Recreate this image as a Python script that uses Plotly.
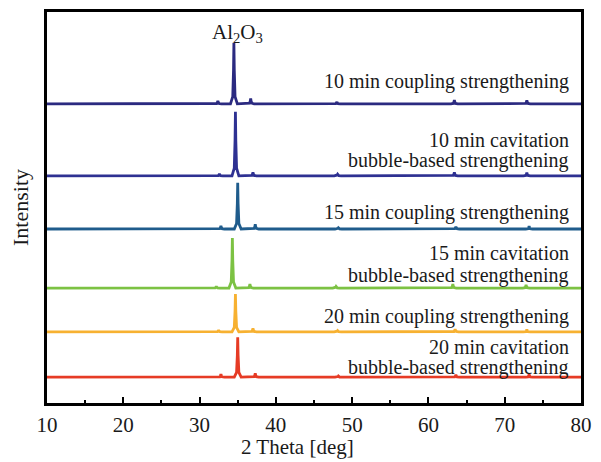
import plotly.graph_objects as go

# XRD patterns, stacked with vertical offsets (arbitrary intensity units)
label_lines = [
    ["10 min coupling strengthening"],
    ["10 min cavitation", "bubble-based strengthening"],
    ["15 min coupling strengthening"],
    ["15 min cavitation", "bubble-based strengthening"],
    ["20 min coupling strengthening"],
    ["20 min cavitation", "bubble-based strengthening"],
]
label_y = [[82.1], [67.3, 62.1], [48.8], [38.4, 32.7], [22.0], [14.3, 9.0]]
colors = ["#2b2a80", "#2e3192", "#1f5c8c", "#7cc243", "#f7b131", "#e63b25"]
offsets = [76.5, 58.1, 44.5, 29.4, 18.2, 6.6]

# peak centres (2θ, deg) and heights above baseline for each pattern
peak_pos = [
    [32.4, 34.5, 36.7, 48.0, 63.4, 72.9],
    [32.6, 34.7, 37.0, 48.1, 63.4, 72.9],
    [32.8, 35.0, 37.3, 48.2, 63.6, 73.2],
    [32.2, 34.3, 36.6, 47.9, 63.2, 72.8],
    [32.5, 34.7, 37.0, 48.1, 63.5, 72.9],
    [32.8, 35.0, 37.3, 48.2, 63.6, 73.2],
]
peak_h = [
    [0.8, 15.6, 1.4, 0.5, 1.0, 0.9],
    [0.5, 16.4, 0.9, 0.4, 0.9, 0.8],
    [0.8, 11.8, 1.2, 0.3, 0.6, 0.7],
    [0.4, 12.8, 1.0, 0.4, 1.0, 0.8],
    [0.4, 9.7, 0.9, 0.3, 0.7, 0.6],
    [0.8, 10.2, 1.0, 0.3, 0.6, 0.7],
]

x_range = [10, 80]
x_ticks = [10, 20, 30, 40, 50, 60, 70, 80]
x_title = "2 Theta [deg]"
y_title = "Intensity"

# relative profile of a single sharp reflection
prof_dx = [-0.45, -0.15, -0.05, 0.0, 0.05, 0.15, 0.45]
prof_f = [0.0, 0.12, 0.55, 1.0, 0.55, 0.12, 0.0]

fig = go.Figure()
for col, off, pos, hts in zip(colors, offsets, peak_pos, peak_h):
    xs, ys = [x_range[0]], [off]
    for c, h in zip(pos, hts):
        for dx, f in zip(prof_dx, prof_f):
            xs.append(c + dx)
            ys.append(off + h * f)
    xs.append(x_range[1])
    ys.append(off)
    fig.add_trace(go.Scatter(x=xs, y=ys, mode="lines",
                             line=dict(color=col, width=2.8),
                             showlegend=False, hoverinfo="skip"))

serif = "'Times New Roman', 'Liberation Serif', serif"
for lines, ys in zip(label_lines, label_y):
    for txt, ly in zip(lines, ys):
        fig.add_annotation(x=78.75, y=ly, xref="x", yref="y", text=txt,
                           showarrow=False, xanchor="right", yanchor="middle",
                           font=dict(family=serif, size=20, color="#1a1a1a"))

fig.add_annotation(x=35.0, y=94.6, xref="x", yref="y",
                   text="Al<sub>2</sub>O<sub>3</sub>", showarrow=False,
                   xanchor="center", yanchor="middle",
                   font=dict(family=serif, size=21, color="#1a1a1a"))

# axis title placed below the tick labels
fig.add_annotation(x=42.8, y=-0.112, xref="x", yref="paper", text=x_title,
                   showarrow=False, xanchor="center", yanchor="middle",
                   font=dict(family=serif, size=21, color="#1a1a1a"))

fig.update_layout(
    width=601, height=462,
    margin=dict(l=47, r=20, t=12, b=59, autoexpand=False),
    paper_bgcolor="white", plot_bgcolor="white",
    font=dict(family=serif, size=20, color="#1a1a1a"),
    xaxis=dict(range=x_range, tickvals=x_ticks, ticks="inside", ticklen=6,
               tickwidth=2, tickcolor="black", showline=True, linewidth=2.5,
               linecolor="black", mirror=True, showgrid=False, zeroline=False,
               ticklabelstandoff=1, automargin=False,
               minor=dict(ticks="inside", ticklen=3, tickwidth=2,
                          tickcolor="black", dtick=5, showgrid=False),
               tickfont=dict(family=serif, size=21)),
    yaxis=dict(range=[0, 100], showticklabels=False, ticks="",
               showline=True, linewidth=2.5, linecolor="black", mirror=True,
               showgrid=False, zeroline=False, automargin=False,
               title=dict(text=y_title, standoff=10,
                          font=dict(family=serif, size=22))),
)

fig.write_html("out.html")
